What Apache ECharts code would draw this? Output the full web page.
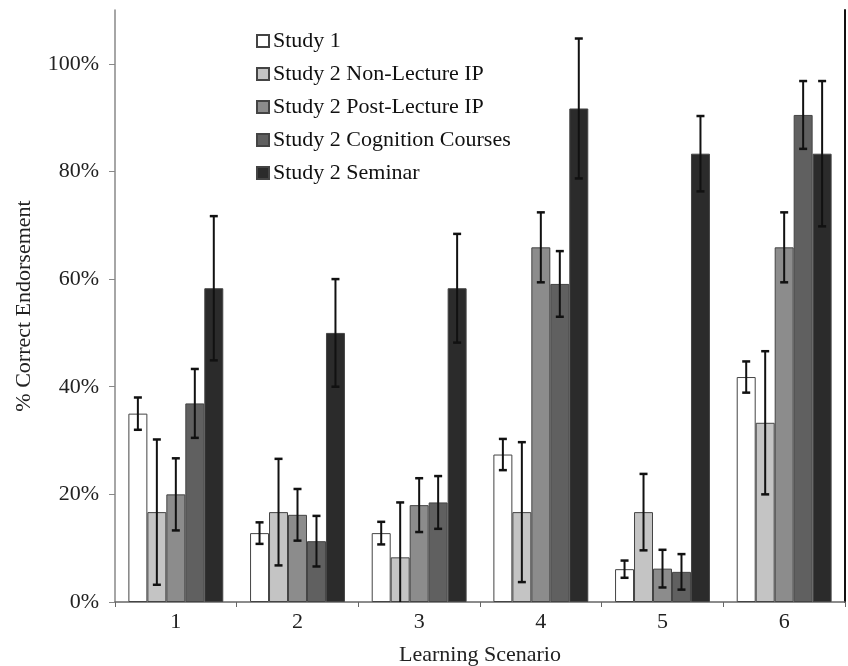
<!DOCTYPE html>
<html>
<head>
<meta charset="utf-8">
<script src="https://cdn.jsdelivr.net/npm/echarts@6/dist/echarts.min.js"></script>
<style>html,body{margin:0;padding:0;background:#fff}#chart{width:848px;height:666px}</style>
</head>
<body>
<div id="chart"></div>
<script>
var categories = ['1', '2', '3', '4', '5', '6'];
var seriesNames = ['Study 1', 'Study 2 Non-Lecture IP', 'Study 2 Post-Lecture IP', 'Study 2 Cognition Courses', 'Study 2 Seminar'];
var study1 = [0.35, 0.128, 0.128, 0.274, 0.061, 0.418];
var study1Err = [0.03, 0.02, 0.021, 0.029, 0.016, 0.029];
var nonLecture = [0.167, 0.167, 0.083, 0.167, 0.167, 0.333];
var nonLectureErr = [0.135, 0.099, 0.102, 0.13, 0.071, 0.133];
var postLecture = [0.20, 0.162, 0.180, 0.659, 0.062, 0.659];
var postLectureErr = [0.067, 0.048, 0.05, 0.065, 0.035, 0.065];
var cognition = [0.369, 0.113, 0.185, 0.591, 0.056, 0.905];
var cognitionErr = [0.064, 0.047, 0.049, 0.061, 0.033, 0.063];
var seminar = [0.583, 0.5, 0.583, 0.917, 0.833, 0.833];
var seminarErr = [0.134, 0.1, 0.101, 0.13, 0.07, 0.135];
var yTicks = [0, 0.2, 0.4, 0.6, 0.8, 1.0];

var values = [study1, nonLecture, postLecture, cognition, seminar];
var errors = [study1Err, nonLectureErr, postLectureErr, cognitionErr, seminarErr];
var fills = ['#ffffff', '#c4c4c4', '#8c8c8c', '#606060', '#2b2b2b'];
var CAT_GAP = 0.22;
var FONT = '"Liberation Serif", "DejaVu Serif", serif';

var chart = echarts.init(document.getElementById('chart'));
var series = [];
values.forEach(function (vals, i) {
  series.push({
    name: seriesNames[i],
    type: 'bar',
    data: vals,
    barGap: '0%',
    barCategoryGap: (CAT_GAP * 100) + '%',
    itemStyle: { color: fills[i], borderColor: '#444', borderWidth: 1 },
    emphasis: { disabled: true }
  });
});
values.forEach(function (vals, i) {
  series.push({
    type: 'custom',
    data: vals.map(function (v, k) { return [k, v, errors[i][k]]; }),
    encode: { x: 0, y: 1 },
    z: 10,
    silent: true,
    renderItem: function (params, api) {
      var k = api.value(0), v = api.value(1), e = api.value(2);
      var band = api.size([1, 0])[0];
      var bw = band * (1 - CAT_GAP) / 5;
      var c = api.coord([k, v]);
      var x = c[0] + (i - 2) * bw;
      var lo = Math.max(0, v - e);
      var yHi = api.coord([k, v + e])[1];
      var yLo = api.coord([k, lo])[1];
      var cw = 4;
      var st = { stroke: '#111', lineWidth: 2 };
      var children = [
        { type: 'line', shape: { x1: x, y1: yHi, x2: x, y2: yLo }, style: st },
        { type: 'line', shape: { x1: x - cw, y1: yHi, x2: x + cw, y2: yHi }, style: { stroke: '#111', lineWidth: 2.5 } }
      ];
      if (v - e >= 0) {
        children.push({ type: 'line', shape: { x1: x - cw, y1: yLo, x2: x + cw, y2: yLo }, style: { stroke: '#111', lineWidth: 2.5 } });
      }
      return { type: 'group', children: children };
    }
  });
});

chart.setOption({
  animation: false,
  backgroundColor: '#fff',
  grid: { left: 115, right: 3, top: 10, bottom: 64, containLabel: false, outerBoundsMode: 'none' },
  legend: {
    data: seriesNames,
    orient: 'vertical',
    left: 256,
    top: 30,
    padding: 0,
    itemWidth: 12,
    itemHeight: 12,
    itemGap: 11,
    icon: 'rect',
    selectedMode: false,
    textStyle: { fontFamily: FONT, fontSize: 22, color: '#111', lineHeight: 22, padding: [0, 0, 0, -1] }
  },
  xAxis: {
    type: 'category',
    data: categories,
    name: 'Learning Scenario',
    nameLocation: 'middle',
    nameGap: 42,
    nameTextStyle: { fontFamily: FONT, fontSize: 22, color: '#222' },
    axisLine: { lineStyle: { color: '#666', width: 1.5 } },
    axisTick: { show: true, length: 5, lineStyle: { color: '#666' } },
    axisLabel: { fontFamily: FONT, fontSize: 22, color: '#222', margin: 9 }
  },
  yAxis: [{
    type: 'value',
    min: 0,
    max: 1.1,
    interval: 0.2,
    name: '% Correct Endorsement',
    nameLocation: 'middle',
    nameGap: 80,
    nameRotate: 90,
    nameTextStyle: { fontFamily: FONT, fontSize: 22, color: '#222' },
    splitLine: { show: false },
    axisLine: { show: true, lineStyle: { color: '#888', width: 1.5 } },
    axisTick: { show: true, length: 6, lineStyle: { color: '#888' }, customValues: yTicks },
    axisLabel: {
      fontFamily: FONT, fontSize: 22, color: '#222', margin: 16,
      customValues: yTicks,
      formatter: function (v) { return Math.round(v * 100) + '%'; }
    }
  }, {
    type: 'value',
    position: 'right',
    min: 0,
    max: 1.1,
    splitLine: { show: false },
    axisLine: { show: true, lineStyle: { color: '#111', width: 2 } },
    axisTick: { show: false },
    axisLabel: { show: false }
  }],
  series: series
});
</script>
</body>
</html>
